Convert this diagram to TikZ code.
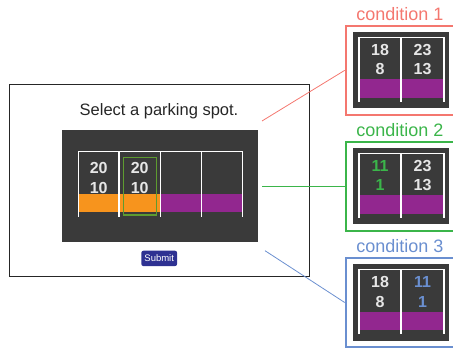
\documentclass[tikz,border=0pt]{standalone}
\usepackage{fontspec}
\setmainfont{Liberation Sans}
\definecolor{panel}{HTML}{3A3A3A}
\definecolor{orangebar}{HTML}{F7941D}
\definecolor{purplebar}{HTML}{92278F}
\definecolor{selgreen}{HTML}{5E9B30}
\definecolor{cred}{HTML}{F4776F}
\definecolor{cgreen}{HTML}{3BB54A}
\definecolor{cblue}{HTML}{6A8FD0}
\definecolor{submitblue}{HTML}{2E3192}
\definecolor{numgray}{HTML}{E6E6E6}
\tikzset{
  whiteline/.style={draw=white, line width=1.5pt},
  numtext/.style={anchor=base, text=numgray, font=\fontsize{16}{16}\selectfont\bfseries, inner sep=0pt},
  condlabel/.style={anchor=base, font=\fontsize{18}{18}\selectfont, inner sep=0pt},
  condbox/.style={draw, line width=2pt, minimum width=110pt, minimum height=89pt, inner sep=0pt},
  link/.style={line width=0.8pt},
}
\newcommand{\CondPanel}[8]{%
  % #1 name, #2 center y, #3 colour, #4 label, #5 a top, #6 a bottom, #7 b top, #8 b bottom
  \begin{scope}[shift={(0,#2)}]
    \node[condbox, draw=#3] (#1) at (400.7,0) {};
    \fill[panel] (353,-38) rectangle (449,38);
    \fill[purplebar] (359,9) rectangle (444,27.5);
    \draw[whiteline] (359,31.5) -- (359,-33) -- (444,-33) -- (444,31.5);
    \draw[whiteline] (401,-33) -- (401,31.5);
    \node[numtext] (#1a1) at (380,-14.6) {#5};
    \node[numtext] (#1a2) at (380,4.6) {#6};
    \node[numtext] (#1b1) at (422.5,-14.6) {#7};
    \node[numtext] (#1b2) at (422.5,4.6) {#8};
    \node[condlabel, text=#3] (#1lab) at (400,-49.6) {#4};
  \end{scope}}
\begin{document}
\begin{tikzpicture}[x=1pt,y=-1pt]
\clip (0,0) rectangle (453,350);
\useasboundingbox (0,0) rectangle (453,350);
% main frame
\node[draw=black!85, line width=1pt, minimum width=300pt, minimum height=191pt, inner sep=0pt] (frame) at (159,180.5) {};
\node[anchor=base, font=\fontsize{16.5}{16.5}\selectfont, text=black!85, inner sep=0pt] (title) at (159,115.7) {Select a parking spot.};
% parking panel
\node[fill=panel, minimum width=196pt, minimum height=112pt, inner sep=0pt] (lot) at (160,186) {};
\fill[orangebar] (78.3,194) rectangle (160.3,211.7);
\fill[purplebar] (160.3,194) rectangle (242.7,211.7);
\draw[whiteline] (78.3,216.7) -- (78.3,151.7) -- (242.7,151.7) -- (242.7,216.7);
\foreach \xx in {119,160.3,201.7} \draw[whiteline] (\xx,151.7) -- (\xx,216.7);
\node[numtext] (n11) at (98.7,174) {20};
\node[numtext] (n12) at (98.7,194) {10};
\node[numtext] (n21) at (139.7,174) {20};
\node[numtext] (n22) at (139.7,194) {10};
\node[draw=selgreen, line width=1.2pt, minimum width=33pt, minimum height=57.3pt, inner sep=0pt] (sel) at (139.8,186.35) {};
% submit
\node[fill=submitblue, rounded corners=2pt, minimum width=35.7pt, minimum height=15.3pt, inner sep=0pt, text=white, font=\fontsize{9.5}{9.5}\selectfont] (submit) at (159.2,258.4) {Submit};
% condition panels
\CondPanel{ca}{70.35}{cred}{condition 1}{18}{8}{23}{13}
\CondPanel{cb}{186.3}{cgreen}{condition 2}{\textcolor{cgreen}{11}}{\textcolor{cgreen}{1}}{23}{13}
\CondPanel{cc}{302.5}{cblue}{condition 3}{18}{8}{\textcolor{cblue}{11}}{\textcolor{cblue}{1}}
% connectors
\coordinate (sa) at (262,121);
\coordinate (sb) at (262,186.3);
\coordinate (sc) at (265,250.7);
\draw[link, cred] (sa) -- (ca.west);
\draw[link, cgreen] (sb) -- (cb.west);
\draw[link, cblue] (sc) -- (cc.west);
\end{tikzpicture}
\end{document}
